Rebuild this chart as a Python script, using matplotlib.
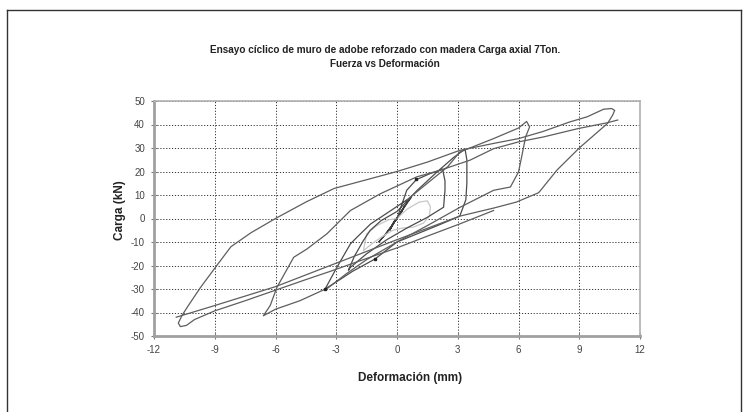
import matplotlib
matplotlib.use("Agg")
import matplotlib.pyplot as plt
from matplotlib.lines import Line2D

# ---------------- data ----------------
# small cycles near origin (dark)
small_x = [0.0, 0.15, 0.3, 0.1, -0.15, -0.3, -0.1, 0.1, 0.35, 0.15, -0.2, -0.35, -0.1, 0.0,
           0.3, 0.7, 0.5, 0.0, -0.5, -0.9, -0.6, 0.0]
small_y = [0.0, 2.0, 4.0, 1.5, -1.5, -4.0, -1.0, 1.0, 5.0, 2.0, -2.0, -5.0, -1.0, 0.0,
           4.0, 9.0, 7.0, 0.0, -6.0, -10.0, -7.0, 0.0]

# light grey cycle
gray_x = [0.0, 0.5, 1.1, 1.5, 1.65, 1.6, 1.3, 0.8, 0.3, -0.2, -0.7, -1.2, -1.66, -1.6, -1.5, -1.0, -0.4, 0.0]
gray_y = [0.0, 4.0, 7.0, 7.5, 5.0, 1.0, -2.0, -3.7, -4.0, -5.0, -7.5, -10.5, -13.7, -11.0, -6.6, -3.0, -0.5, 0.0]

# medium cycles (dark)
mid_x = [0.0, 0.48, 0.95, 1.6, 2.12, 2.25, 2.37, 2.37, 2.3, 1.5, 0.5, -0.5, -1.5, -2.3, -2.4,
         -2.1, -1.66, -1.33, -0.8, 0.0,
         1.0, 2.0, 2.8, 3.36, 3.45, 3.45, 3.4, 3.1, 2.0, 0.0, -1.08, -2.2, -3.0, -3.55,
         -2.97, -2.3, -1.98, -1.3, -0.3, 0.5]
mid_y = [0.0, 12.0, 16.5, 19.0, 20.5, 21.0, 16.0, 12.0, 4.8, 0.5, -4.0, -9.0, -15.0, -20.8, -22.0,
         -16.0, -9.4, -5.1, -1.0, 3.0,
         12.0, 20.0, 26.0, 29.5, 25.0, 15.0, 8.0, 1.0, -3.0, -10.0, -17.2, -22.5, -27.0, -30.0,
         -20.8, -10.8, -8.0, -2.3, 3.4, 8.0]

# cycle to 6.5 mm and reload to 10.9 mm (dark)
big1_x = [0.5, 1.5, 2.5, 3.1, 4.77, 6.0, 6.4, 6.55, 6.35, 6.15, 6.0, 5.6, 4.77, 3.12, 1.5, 0.0, -1.5,
          -2.5, -3.4, -4.8, -6.0, -6.6, -6.26, -5.93, -5.1, -4.45, -3.46, -2.3, -0.83, 0.97, 2.12,
          3.6, 4.77, 6.0, 7.23, 8.96, 10.36, 10.9]
big1_y = [8.0, 15.0, 22.0, 28.3, 34.0, 38.5, 41.3, 39.0, 34.7, 26.0, 19.8, 13.4, 12.0, 4.8, -3.0, -10.0, -17.5,
          -23.5, -29.5, -35.0, -38.6, -41.4, -37.0, -29.3, -16.5, -13.0, -6.5, 3.4, 10.5, 17.7, 20.5,
          24.8, 29.7, 32.6, 34.7, 38.3, 40.7, 41.9]

# cycle to 10.8 mm (dark)
big2_x = [-10.9, -9.1, -6.0, -3.3, 0.0, 3.1, 4.8, 5.9, 7.0, 7.9, 9.0, 10.4, 10.65, 10.75, 10.6, 10.2,
          9.4, 8.5, 7.2, 6.0, 4.8, 3.1, 1.5, 0.0, -1.5, -3.1, -4.5, -6.0, -7.2, -7.8, -8.2, -8.9,
          -9.7, -10.3, -10.6, -10.8, -10.7, -10.4, -10.0, -9.0, -7.5, -6.0, -4.5, -3.3, -1.5, 0.0,
          1.5, 3.1, 4.77]
big2_y = [-42.0, -37.3, -29.0, -20.0, -9.0, 1.0, 4.5, 7.0, 11.0, 20.6, 30.0, 40.5, 44.0, 46.0, 46.8, 46.5,
          43.3, 41.0, 37.0, 34.0, 32.0, 29.0, 24.0, 20.0, 16.5, 12.8, 7.0, 0.0, -6.0, -9.6, -12.0, -20.0,
          -29.3, -37.0, -41.0, -44.5, -46.0, -45.5, -43.0, -39.3, -35.0, -30.5, -26.0, -22.5, -17.0, -12.5,
          -7.5, -2.3, 3.4]

# markers
dot_x = [0.95, -1.08, -3.55]
dot_y = [16.8, -17.2, -30.0]

x_ticks = [-12, -9, -6, -3, 0, 3, 6, 9, 12]
y_ticks = [-50, -40, -30, -20, -10, 0, 10, 20, 30, 40, 50]

title_text = "Ensayo cíclico de muro de adobe reforzado con madera Carga axial 7Ton.\nFuerza vs Deformación"
x_label = "Deformación (mm)"
y_label = "Carga (kN)"

# ---------------- drawing ----------------
W, H = 747, 412
fig = plt.figure(figsize=(W / 100, H / 100), dpi=100)
fam = ["Liberation Sans Narrow", "Liberation Sans", "DejaVu Sans"]

ax = fig.add_axes([154 / W, 1 - 336 / H, (640 - 154) / W, (336 - 101) / H])

dark = "#5e5e5e"
ax.plot(small_x, small_y, color="#3c3c3c", lw=0.9, zorder=3)
ax.plot(gray_x, gray_y, color="#c8c8c8", lw=0.9, zorder=3)
ax.plot(mid_x, mid_y, color="#4c4c4c", lw=0.9, zorder=3)
ax.plot(big1_x, big1_y, color=dark, lw=0.9, zorder=3)
ax.plot(big2_x, big2_y, color=dark, lw=0.9, zorder=3)
ax.plot(dot_x, dot_y, linestyle="none", marker="s", ms=2, color="#222222", zorder=4)

ax.set_xlim(-12, 12)
ax.set_ylim(-50, 50)
ax.set_xticks(x_ticks)
ax.set_yticks(y_ticks)
ax.set_xticklabels([str(t) for t in x_ticks])
ax.set_yticklabels([str(t) for t in y_ticks])
ax.grid(True, color="#333333", linestyle=(0, (1.2, 1.8)), linewidth=0.7)
ax.set_axisbelow(True)

for s in ["top", "right"]:
    ax.spines[s].set_color("#b0b0b0")
    ax.spines[s].set_linewidth(1.2)
for s in ["left", "bottom"]:
    ax.spines[s].set_color("#a0a0a0")
    ax.spines[s].set_linewidth(2.0)

ax.tick_params(axis="both", direction="inout", length=5, width=0.8, color="#777777",
               labelsize=7, labelcolor="#444444", pad=4)
for lab in ax.get_xticklabels() + ax.get_yticklabels():
    lab.set_family(fam)

fig.text(385 / W, 1 - 57 / H, title_text, ha="center", va="center", fontsize=7.2,
         fontweight="bold", family=fam, color="#222222", linespacing=1.45)
fig.text(410 / W, 1 - 378 / H, x_label, ha="center", va="center", fontsize=8.5,
         fontweight="bold", family=fam, color="#222222")
fig.text(120 / W, 1 - 210 / H, y_label, ha="center", va="center", rotation=90, fontsize=8.5,
         fontweight="bold", family=fam, color="#222222")

# outer frame of the chart area
fig.add_artist(Line2D([7 / W, 7 / W], [0, 1 - 10 / H], transform=fig.transFigure, color="#333333", lw=1.0))
fig.add_artist(Line2D([7 / W, 741 / W], [1 - 10 / H, 1 - 10 / H], transform=fig.transFigure, color="#333333", lw=1.0))
fig.add_artist(Line2D([741 / W, 741 / W], [0, 1 - 10 / H], transform=fig.transFigure, color="#333333", lw=1.0))

fig.savefig("out.png", dpi=100)
